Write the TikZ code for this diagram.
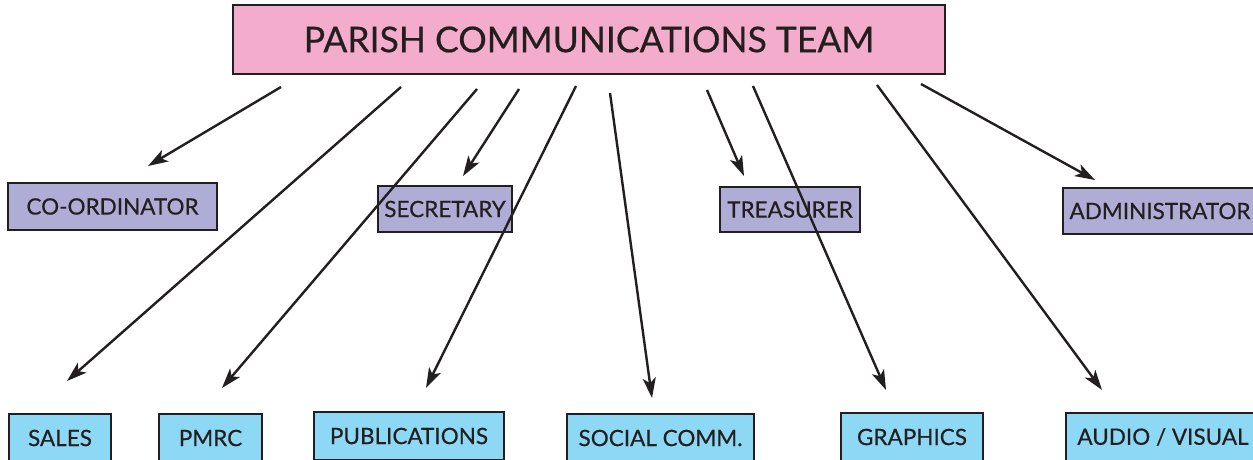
\documentclass[tikz,border=0pt]{standalone}
\usepackage{fontspec}
\setmainfont{Lato}
\newfontfamily\boxfont{Lato}[FakeBold=0.5]
\usetikzlibrary{arrows.meta}
\definecolor{teampink}{HTML}{F4ACCD}
\definecolor{rolelav}{HTML}{AFADD5}
\definecolor{unitblue}{HTML}{8DD8F5}
\definecolor{inkdark}{HTML}{231F20}
\tikzset{
  basebox/.style={draw=inkdark, line width=2.6pt, inner sep=0pt, text=inkdark, align=center},
  teambox/.style={basebox, fill=teampink, font=\boxfont\fontsize{35.5}{40}\selectfont},
  rolebox/.style={basebox, fill=rolelav, font=\boxfont\fontsize{22.5}{26}\selectfont},
  unitbox/.style={basebox, fill=unitblue, font=\boxfont\fontsize{22.5}{26}\selectfont},
  link/.style={draw=inkdark, line width=2.4pt, -{Stealth[length=20pt,width=13pt,inset=5pt]}}
}
\begin{document}
\begin{tikzpicture}[x=1pt,y=-1pt]
  \clip (0,0) rectangle (1253,459);
  \fill[white] (0,0) rectangle (1253,459);

  % heading
  \node[teambox, minimum width=712pt, minimum height=69pt] (team) at (589,39.5) {PARISH COMMUNICATIONS TEAM};

  % officers
  \node[rolebox, minimum width=209pt, minimum height=47pt] (coord) at (112.5,206.5) {CO-ORDINATOR};
  \node[rolebox, minimum width=134pt, minimum height=46pt] (secr)  at (445,209) {SECRETARY};
  \node[rolebox, minimum width=140pt, minimum height=45pt] (treas) at (790,209.5) {TREASURER};
  \node[rolebox, minimum width=194pt, minimum height=46pt] (admin) at (1160,211) {ADMINISTRATOR};

  % working groups
  \node[unitbox, minimum width=102pt, minimum height=48pt] (sales)  at (60,438) {SALES};
  \node[unitbox, minimum width=103pt, minimum height=48pt] (pmrc)   at (210.5,438) {PMRC};
  \node[unitbox, minimum width=190pt, minimum height=48pt] (pubs)   at (409,436) {PUBLICATIONS};
  \node[unitbox, minimum width=187pt, minimum height=48pt] (social) at (660.5,438) {SOCIAL COMM.};
  \node[unitbox, minimum width=142pt, minimum height=48pt] (graph)  at (912,437) {GRAPHICS};
  \node[unitbox, minimum width=194pt, minimum height=48pt] (av)     at (1163,437) {AUDIO / VISUAL};

  % arrow start points below the heading
  \coordinate (fromCoord)  at (281,87);
  \coordinate (fromSales)  at (401,87);
  \coordinate (fromPmrc)   at (477,89);
  \coordinate (fromSecr)   at (519,89);
  \coordinate (fromPubs)   at (576,86);
  \coordinate (fromSocial) at (610,93);
  \coordinate (fromTreas)  at (707,90);
  \coordinate (fromGraph)  at (753,86);
  \coordinate (fromAv)     at (877,85);
  \coordinate (fromAdmin)  at (921,84);

  % arrow tips above the boxes
  \coordinate (toCoord)  at (148,166);
  \coordinate (toSales)  at (67,381);
  \coordinate (toPmrc)   at (222,388);
  \coordinate (toSecr)   at (463,176);
  \coordinate (toPubs)   at (426,388);
  \coordinate (toSocial) at (652,398);
  \coordinate (toTreas)  at (744,176);
  \coordinate (toGraph)  at (886,390);
  \coordinate (toAv)     at (1102,390);
  \coordinate (toAdmin)  at (1095,180);

  \draw[link] (fromCoord)  -- (toCoord);
  \draw[link] (fromSales)  -- (toSales);
  \draw[link] (fromPmrc)   -- (toPmrc);
  \draw[link] (fromSecr)   -- (toSecr);
  \draw[link] (fromPubs)   -- (toPubs);
  \draw[link] (fromSocial) -- (toSocial);
  \draw[link] (fromTreas)  -- (toTreas);
  \draw[link] (fromGraph)  -- (toGraph);
  \draw[link] (fromAv)     -- (toAv);
  \draw[link] (fromAdmin)  -- (toAdmin);
\end{tikzpicture}
\end{document}
